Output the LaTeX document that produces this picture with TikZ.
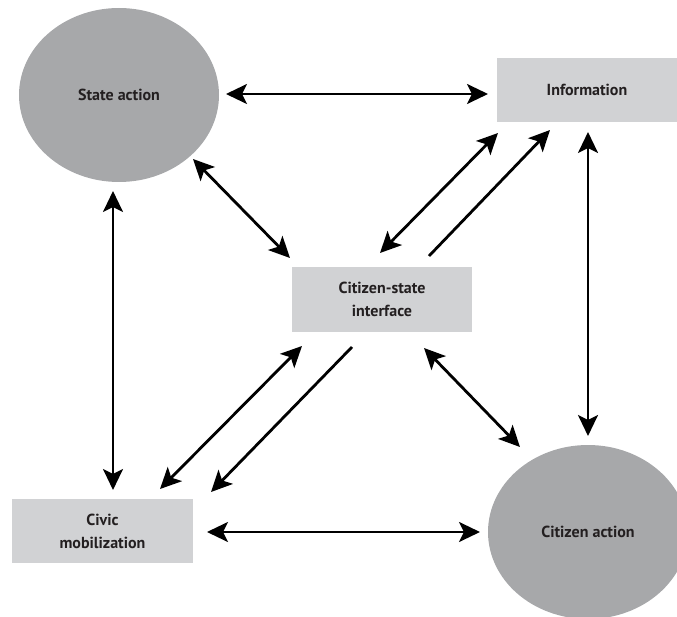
\documentclass[tikz,border=0pt]{standalone}
\usepackage{fontspec}
\setmainfont{PT Sans}
\usetikzlibrary{shapes.geometric,arrows.meta}
\definecolor{darkfill}{HTML}{A7A8AA}
\definecolor{lightfill}{HTML}{D1D2D4}
\definecolor{txt}{HTML}{231F20}
\tikzset{
  bubble/.style={ellipse,fill=darkfill,draw=none,minimum width=200pt,minimum height=174pt,inner sep=0pt,font=\bfseries\fontsize{16}{23}\selectfont,text=txt},
  box/.style={rectangle,fill=lightfill,draw=none,inner sep=0pt,align=center,font=\bfseries\fontsize{16}{23}\selectfont,text=txt},
  link/.style={line width=2.8pt,black,{Stealth[length=21pt,width=20pt,inset=5pt]}-{Stealth[length=21pt,width=20pt,inset=5pt]}},
  onelink/.style={line width=2.8pt,black,-{Stealth[length=21pt,width=20pt,inset=5pt]}}
}
\begin{document}
\begin{tikzpicture}[x=1pt,y=-1pt]
\useasboundingbox (0,0) rectangle (677,617);
\clip (0,0) rectangle (677,617);
\node[bubble] (sa) at (119,95) {State action};
\node[bubble] (ca) at (588,532) {Citizen action};
\node[box,minimum width=180pt,minimum height=64pt] (info) at (587,90) {Information};
\node[box,minimum width=180pt,minimum height=65pt] (csi) at (382,299.5) {Citizen-state\\interface};
\node[box,minimum width=181pt,minimum height=64pt] (civ) at (102.5,531) {Civic\\mobilization};
% horizontal
\draw[link] ([shift={(107,-1)}]sa.center) -- ([shift={(-99,4)}]info.center);
\draw[link] ([shift={(104.5,1)}]civ.center) -- ([shift={(-108,0)}]ca.center);
% vertical
\draw[link] ([shift={(1,42)}]info.center) -- ([shift={(0,-96)}]ca.center);
\draw[link] ([shift={(-6,96)}]sa.center) -- ([shift={(10.5,-41)}]civ.center);
% diagonals
\draw[link] ([shift={(74,64)}]sa.center) -- ([shift={(-92,-41.5)}]csi.center);
\draw[link] ([shift={(42,48.5)}]csi.center) -- ([shift={(-68,-85)}]ca.center);
\draw[link] ([shift={(-89,43)}]info.center) -- ([shift={(-2,-46.5)}]csi.center);
\draw[onelink] ([shift={(47,-43.5)}]csi.center) -- ([shift={(-37,40)}]info.center);
\draw[link] ([shift={(-80,46.5)}]csi.center) -- ([shift={(57.5,-42)}]civ.center);
\draw[onelink] ([shift={(-30,47.5)}]csi.center) -- ([shift={(108.5,-39)}]civ.center);
\end{tikzpicture}
\end{document}
